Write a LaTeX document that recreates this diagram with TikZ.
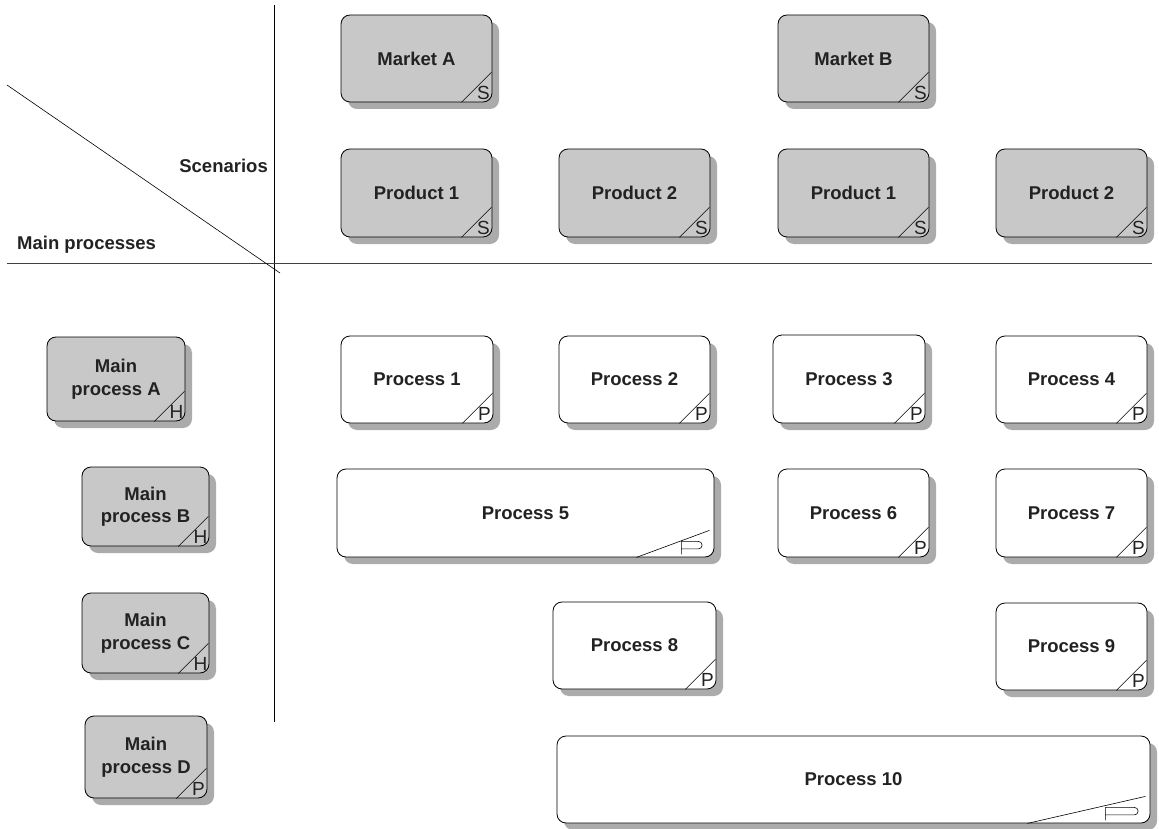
\documentclass[tikz,border=0pt]{standalone}
\usepackage{fontspec}
\setmainfont{Liberation Sans}
\usetikzlibrary{shadows,calc}
\definecolor{boxgray}{HTML}{C8C8C8}
\definecolor{shadowgray}{HTML}{ABABAB}
\definecolor{txt}{HTML}{222222}
\tikzset{
  basebox/.style={draw=black, line width=0.8pt, rounded corners=9pt, inner sep=0pt,
    align=center, text=txt, font=\fontsize{18.5}{22.5}\selectfont\bfseries,
    drop shadow={shadow xshift=7pt, shadow yshift=-7pt, fill=shadowgray, opacity=1}},
  graybox/.style={basebox, fill=boxgray},
  whitebox/.style={basebox, fill=white},
  cornerline/.style={line width=0.6pt},
  markletter/.style={inner sep=0pt, font=\fontsize{19}{19}\selectfont, text=txt},
  axis/.style={line width=0.8pt},
  axislabel/.style={inner sep=0pt, text=txt, font=\fontsize{18.5}{22}\selectfont\bfseries}
}
\newcommand{\bx}[7]{% name, style, x1, y1, x2, y2, text
  \node[#2, minimum width={(#5-#3)*1pt}, minimum height={(#6-#4)*1pt}] (#1) at ({(#3+#5)/2},{(#4+#6)/2}) {#7};}
\newcommand{\corner}[2]{% name, letter
  \draw[cornerline] ($(#1.south east)+(-31,0)$) -- ($(#1.south east)+(-1,-30)$);
  \node[markletter] (#1l) at ($(#1.south east)+(-9,-9)$) {#2};}
\newcommand{\widecorner}[4]{% name, dx, dy, P width
  \draw[cornerline] ($(#1.south east)+(-#2,0)$) -- ($(#1.south east)+(-5,-#3)$);
  \coordinate (#1pb) at ($(#1.south east)+(-12-#4,-3)$);
  \draw[cornerline, line join=round] (#1pb) -- ++(0,-13) -- ++({#4-4},0)
     arc[start angle=-90, end angle=90, radius=3.75] -- ++({-(#4-4)},0);}
\begin{document}
\begin{tikzpicture}[x=1pt,y=-1pt]
\useasboundingbox (0,0) rectangle (1159,829);
% axes
\coordinate (vt) at (274,5);
\coordinate (vb) at (274,722);
\coordinate (hl) at (7,263);
\coordinate (hr) at (1152,263);
\coordinate (dl) at (7,85);
\coordinate (dr) at (280,273);
\draw[axis] (vt) -- (vb);
\draw[axis, draw=black!75] (hl) -- (hr);
\draw[axis, line width=0.6pt] (dl) -- (dr);
\node[axislabel, anchor=east] (scen) at (268,166) {Scenarios};
\node[axislabel, anchor=west] (mainp) at (17,245) {Main processes};
% scenarios
\bx{ma}{graybox}{341}{15}{492}{102}{Market A}
\bx{mb}{graybox}{778}{15}{929}{102}{Market B}
\bx{p1a}{graybox}{341}{149}{492}{237}{Product 1}
\bx{p2a}{graybox}{559}{149}{710}{237}{Product 2}
\bx{p1b}{graybox}{778}{149}{929}{237}{Product 1}
\bx{p2b}{graybox}{996}{149}{1147}{237}{Product 2}
\corner{ma}{S}\corner{mb}{S}\corner{p1a}{S}\corner{p2a}{S}\corner{p1b}{S}\corner{p2b}{S}
% main processes
\bx{mpa}{graybox}{47}{337}{185}{421}{Main\\process A}
\bx{mpb}{graybox}{82}{467}{209}{546}{Main\\process B}
\bx{mpc}{graybox}{82}{593}{209}{673}{Main\\process C}
\bx{mpd}{graybox}{85}{716}{207}{798}{Main\\process D}
\corner{mpa}{H}\corner{mpb}{H}\corner{mpc}{H}\corner{mpd}{P}
% processes
\bx{pr1}{whitebox}{341}{336}{493}{423}{Process 1}
\bx{pr2}{whitebox}{559}{336}{710}{423}{Process 2}
\bx{pr3}{whitebox}{773}{335}{925}{423}{Process 3}
\bx{pr4}{whitebox}{996}{336}{1147}{423}{Process 4}
\bx{pr5}{whitebox}{337}{469}{714}{557}{Process 5}
\bx{pr6}{whitebox}{778}{469}{929}{557}{Process 6}
\bx{pr7}{whitebox}{996}{469}{1147}{557}{Process 7}
\bx{pr8}{whitebox}{553}{602}{716}{689}{Process 8}
\bx{pr9}{whitebox}{996}{603}{1147}{690}{Process 9}
\bx{pr10}{whitebox}{557}{736}{1150}{823}{Process 10}
\corner{pr1}{P}\corner{pr2}{P}\corner{pr3}{P}\corner{pr4}{P}
\corner{pr6}{P}\corner{pr7}{P}\corner{pr8}{P}\corner{pr9}{P}
\widecorner{pr5}{78}{27}{21}
\widecorner{pr10}{123}{27}{33}
\end{tikzpicture}
\end{document}
